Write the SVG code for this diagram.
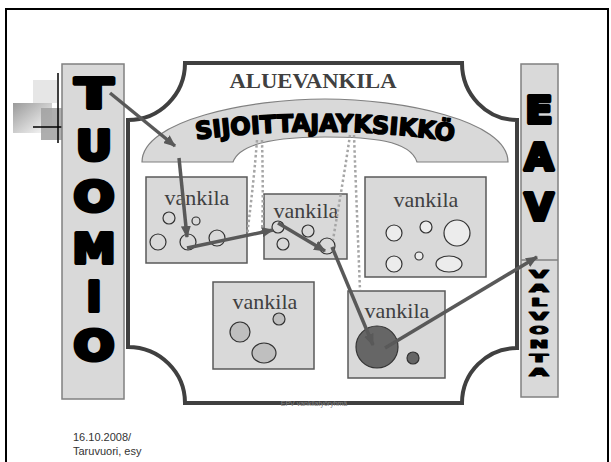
<svg xmlns="http://www.w3.org/2000/svg" width="611" height="462" viewBox="0 0 611 462">
<defs>
<style>
.col{fill:#d9d9d9;stroke:#808080;stroke-width:1.5}
.big{font-family:"DejaVu Sans","Liberation Sans",sans-serif;font-weight:bold;fill:#000;stroke:#000;stroke-width:4;stroke-linejoin:round;text-anchor:middle}
.sm{font-family:"DejaVu Sans","Liberation Sans",sans-serif;font-weight:bold;fill:#000;stroke:#000;stroke-width:1.2;stroke-linejoin:round;text-anchor:middle;font-size:11px}
.box{fill:#d9d9d9;stroke:#595959;stroke-width:1.5}
.vk{font-family:"Liberation Serif","Times New Roman",serif;font-size:22px;fill:#404040;text-anchor:middle}
.c{fill:none;stroke:#333;stroke-width:1.2}
.cl{fill:#ececec;stroke:#333;stroke-width:1.2}
.cm{fill:#bfbfbf;stroke:#333;stroke-width:1.2}
.cd{fill:#666;stroke:#333;stroke-width:1.2}
.arr{fill:none;stroke:#595959;stroke-width:3.5;marker-end:url(#ah)}
.dot{fill:none;stroke:#a6a6a6;stroke-width:2.5;stroke-dasharray:2.5 2.5}
</style>
<marker id="ah" markerUnits="userSpaceOnUse" markerWidth="12" markerHeight="10" refX="11" refY="5" orient="auto">
<path d="M0,0 L12,5 L0,10 z" fill="#595959"/>
</marker>
<linearGradient id="gr" x1="0" y1="0" x2="1" y2="1">
<stop offset="0" stop-color="#9a9a9a"/>
<stop offset="1" stop-color="#ffffff"/>
</linearGradient>
</defs>
<rect width="611" height="462" fill="#fff"/>
<path d="M6,470 L6,9 L608,9 L608,470" fill="none" stroke="#000" stroke-width="2"/>

<g id="decor">
<rect x="33" y="80" width="24" height="23" fill="#e6e6e6"/>
<rect x="13" y="103" width="39" height="30" fill="url(#gr)"/>
<rect x="41" y="108" width="21" height="32" fill="#a0a0a0" opacity="0.85"/>
<line x1="58" y1="73" x2="58" y2="143" stroke="#000" stroke-width="1.5"/>
<line x1="33" y1="127" x2="62" y2="127" stroke="#000" stroke-width="1.5"/>
</g>

<g id="tuomio">
<rect class="col" x="62" y="64" width="62" height="335"/>
<text class="big" x="94" y="108" font-size="41" textLength="38" lengthAdjust="spacingAndGlyphs">T</text>
<text class="big" x="94" y="160" font-size="41" textLength="36" lengthAdjust="spacingAndGlyphs">U</text>
<text class="big" x="94" y="211" font-size="41" textLength="41" lengthAdjust="spacingAndGlyphs">O</text>
<text class="big" x="94" y="263" font-size="41" textLength="43" lengthAdjust="spacingAndGlyphs">M</text>
<text class="big" x="94" y="311" font-size="41" textLength="15" lengthAdjust="spacingAndGlyphs">I</text>
<text class="big" x="94" y="360" font-size="41" textLength="41" lengthAdjust="spacingAndGlyphs">O</text>
</g>

<g id="aluevankila">
<path d="M185,63 L462,63 A55,57 0 0 0 517,120 L517,348 A55,55 0 0 0 462,403 L185,403 A57,56 0 0 0 128,347 L128,120 A57,57 0 0 0 185,63 Z" fill="none" stroke="#404040" stroke-width="4"/>
<text x="313" y="88" font-family="Liberation Serif,'Times New Roman',serif" font-weight="bold" font-size="20" fill="#404040" text-anchor="middle" textLength="167" lengthAdjust="spacingAndGlyphs">ALUEVANKILA</text>
</g>

<g id="sijoittajayksikko">
<path d="M142,162 C142,120 250,99 325,99 C400,99 508,120 508,162 L417,162 C410,140 370,137 325,137 C280,137 240,142 233,162 Z" fill="#d9d9d9" stroke="#808080" stroke-width="1.2"/>
<path id="sp" d="M186,141 Q325,121 464,143" fill="none"/>
<text font-family="DejaVu Sans,'Liberation Sans',sans-serif" font-weight="bold" font-size="24" fill="#000" stroke="#000" stroke-width="1.6" stroke-linejoin="round" text-anchor="middle"><textPath href="#sp" startOffset="50%">SIJOITTAJAYKSIKKÖ</textPath></text>
</g>

<g id="eav">
<rect class="col" x="521" y="64" width="37" height="333"/>
<line x1="521" y1="260" x2="558" y2="260" stroke="#808080" stroke-width="1.5"/>
<text class="big" x="539" y="123" font-size="37" textLength="27" lengthAdjust="spacingAndGlyphs">E</text>
<text class="big" x="539" y="170" font-size="38" textLength="29" lengthAdjust="spacingAndGlyphs">A</text>
<text class="big" x="539" y="220" font-size="38" textLength="29" lengthAdjust="spacingAndGlyphs">V</text>
<text class="sm" x="539" y="278" textLength="19" lengthAdjust="spacingAndGlyphs">V</text>
<text class="sm" x="539" y="292" textLength="19" lengthAdjust="spacingAndGlyphs">A</text>
<text class="sm" x="539" y="306" textLength="16" lengthAdjust="spacingAndGlyphs">L</text>
<text class="sm" x="539" y="320" textLength="19" lengthAdjust="spacingAndGlyphs">V</text>
<text class="sm" x="539" y="334" textLength="19" lengthAdjust="spacingAndGlyphs">O</text>
<text class="sm" x="539" y="348" textLength="19" lengthAdjust="spacingAndGlyphs">N</text>
<text class="sm" x="539" y="362" textLength="18" lengthAdjust="spacingAndGlyphs">T</text>
<text class="sm" x="539" y="376" textLength="19" lengthAdjust="spacingAndGlyphs">A</text>
</g>

<g id="vankila1">
<rect class="box" x="146" y="177" width="101" height="86"/>
<text class="vk" x="197" y="205">vankila</text>
<circle class="c" cx="169" cy="218" r="6"/>
<circle class="c" cx="196" cy="221" r="4"/>
<circle class="c" cx="158" cy="242" r="8"/>
<circle class="c" cx="188" cy="242" r="8"/>
<circle class="c" cx="217" cy="238" r="8"/>
</g>

<g id="vankila2">
<rect class="box" x="264" y="194" width="83" height="65"/>
<text class="vk" x="306" y="218">vankila</text>
<circle class="c" cx="278" cy="227" r="6"/>
<circle class="c" cx="308" cy="231" r="6"/>
<circle class="c" cx="283" cy="244" r="6"/>
<circle class="c" cx="327" cy="246" r="8"/>
</g>

<g id="vankila3">
<rect class="box" x="365" y="177" width="121" height="100"/>
<text class="vk" x="426" y="207">vankila</text>
<circle class="cl" cx="394" cy="233" r="8"/>
<circle class="cl" cx="426" cy="227" r="6"/>
<circle class="cl" cx="457" cy="233" r="13"/>
<circle class="cl" cx="394" cy="264" r="8"/>
<circle class="cl" cx="419" cy="256" r="4"/>
<ellipse class="cl" cx="449" cy="264" rx="13" ry="8"/>
</g>

<g id="vankila4">
<rect class="box" x="213" y="282" width="101" height="87"/>
<text class="vk" x="265" y="309">vankila</text>
<circle class="cm" cx="279" cy="319" r="6"/>
<circle class="cm" cx="240" cy="332" r="10"/>
<ellipse class="cm" cx="264" cy="353" rx="12" ry="10"/>
</g>

<g id="vankila5">
<rect class="box" x="348" y="291" width="97" height="87"/>
<text class="vk" x="397" y="318">vankila</text>
<circle class="cd" cx="377" cy="347" r="21"/>
<circle class="cd" cx="413" cy="358" r="6"/>
</g>

<g id="connectors">
<path class="dot" d="M257,140 C254,180 250,210 247,237"/>
<path class="dot" d="M262,140 C263,180 263,210 262,232"/>
<path class="dot" d="M350,135 C345,170 338,210 333,240"/>
<path class="dot" d="M354,135 C356,190 358,240 360,290"/>
<path class="arr" d="M110,93 L175,146"/>
<path class="arr" d="M179,158 L187,237"/>
<path class="arr" d="M187,248 L273,230"/>
<path class="arr" d="M278,223 L325,251"/>
<path class="arr" d="M332,247 L373,345"/>
<path class="arr" d="M385,348 L537,257"/>
</g>

<g id="footer">
<text x="314" y="406" font-family="Liberation Sans,Arial,sans-serif" font-size="7" fill="#808080" text-anchor="middle">EPV vankilatyöryhmä</text>
<text x="73" y="441" font-family="Liberation Sans,Arial,sans-serif" font-size="11" fill="#333">16.10.2008/</text>
<text x="73" y="455" font-family="Liberation Sans,Arial,sans-serif" font-size="11" fill="#333">Taruvuori, esy</text>
</g>
</svg>
